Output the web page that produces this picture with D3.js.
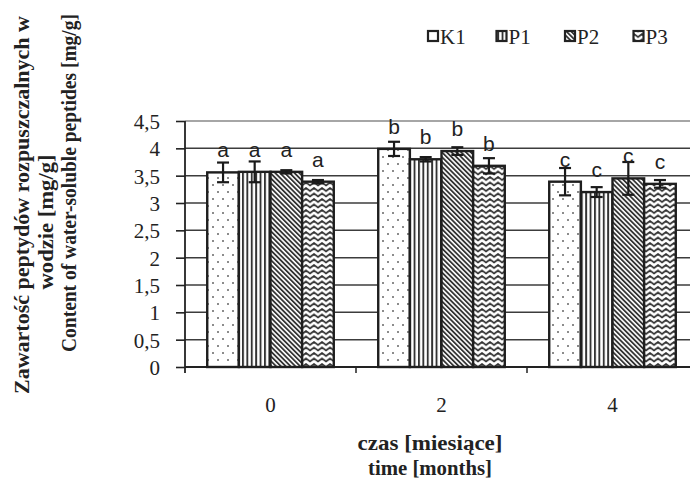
<!DOCTYPE html>
<html>
<head>
<meta charset="utf-8">
<script src="https://cdn.jsdelivr.net/npm/d3@7"></script>
<style>
  html, body { margin: 0; padding: 0; background: #fff; }
  svg { display: block; }
</style>
</head>
<body>
<svg id="chart" width="690" height="481"></svg>
<script>
// Time points (months) and treatment groups
const months = ["0", "2", "4"];
const groups = ["K1", "P1", "P2", "P3"];

// Mean peptide content [mg/g] per group, one value per time point
const valuesK1 = [3.56, 3.99, 3.39];
const valuesP1 = [3.57, 3.80, 3.20];
const valuesP2 = [3.57, 3.95, 3.45];
const valuesP3 = [3.39, 3.68, 3.35];

// Error bar half-widths [mg/g]
const errorsK1 = [0.18, 0.13, 0.25];
const errorsP1 = [0.19, 0.04, 0.09];
const errorsP2 = [0.03, 0.07, 0.30];
const errorsP3 = [0.03, 0.14, 0.07];

// Significance letters per time point
const letters = ["a", "b", "c"];

// Y axis tick values and labels
const yTicks = [0, 0.5, 1, 1.5, 2, 2.5, 3, 3.5, 4, 4.5];
const yTickLabels = ["0", "0,5", "1", "1,5", "2", "2,5", "3", "3,5", "4", "4,5"];

const series = [
  { key: "K1", values: valuesK1, errors: errorsK1 },
  { key: "P1", values: valuesP1, errors: errorsP1 },
  { key: "P2", values: valuesP2, errors: errorsP2 },
  { key: "P3", values: valuesP3, errors: errorsP3 }
];

const rows = [];
series.forEach(s => {
  months.forEach((m, i) => {
    rows.push({ group: s.key, month: m, value: s.values[i], error: s.errors[i], letter: letters[i] });
  });
});

const svg = d3.select("#chart");
const serif = "'Liberation Serif', 'Times New Roman', serif";
const sans = "'Liberation Sans', Arial, sans-serif";

const plot = { left: 185, right: 698, top: 121, bottom: 367 };

const x0 = d3.scaleBand().domain(months).range([plot.left, plot.right]).padding(0);
const bw = x0.bandwidth();
const x1 = d3.scaleBand().domain(groups).range([bw * 0.13, bw * 0.87]).padding(0);
const y = d3.scaleLinear().domain([0, 4.5]).range([plot.bottom, plot.top]);

// Fill patterns for each group
const defs = svg.append("defs");
const ink = "#333";

const pDots = defs.append("pattern").attr("id", "pat-K1")
  .attr("patternUnits", "userSpaceOnUse").attr("width", 10).attr("height", 14);
pDots.append("rect").attr("width", 10).attr("height", 14).attr("fill", "#fff");
pDots.append("circle").attr("cx", 3).attr("cy", 3).attr("r", 1).attr("fill", "#666");
pDots.append("circle").attr("cx", 8).attr("cy", 10).attr("r", 1).attr("fill", "#666");

const pVert = defs.append("pattern").attr("id", "pat-P1")
  .attr("patternUnits", "userSpaceOnUse").attr("width", 4.4).attr("height", 10);
pVert.append("rect").attr("width", 4.4).attr("height", 10).attr("fill", "#fff");
pVert.append("rect").attr("x", 0).attr("width", 1.9).attr("height", 10).attr("fill", ink);

const pDiag = defs.append("pattern").attr("id", "pat-P2")
  .attr("patternUnits", "userSpaceOnUse").attr("width", 3.4).attr("height", 10)
  .attr("patternTransform", "rotate(-45)");
pDiag.append("rect").attr("width", 3.4).attr("height", 10).attr("fill", "#fff");
pDiag.append("rect").attr("width", 1.8).attr("height", 10).attr("fill", ink);

const pZig = defs.append("pattern").attr("id", "pat-P3")
  .attr("patternUnits", "userSpaceOnUse").attr("width", 8).attr("height", 5.5);
pZig.append("rect").attr("width", 8).attr("height", 5.5).attr("fill", "#fff");
pZig.append("path").attr("d", "M-2,4 L2,1 L6,4 L10,1")
  .attr("fill", "none").attr("stroke", ink).attr("stroke-width", 1.7);

// Horizontal gridlines
svg.append("g").selectAll("line").data(yTicks.filter(t => t > 0)).join("line")
  .attr("x1", plot.left).attr("x2", 690)
  .attr("y1", d => y(d)).attr("y2", d => y(d))
  .attr("stroke", d => d === 4.5 ? "#888" : "#3c3c3c")
  .attr("stroke-width", 1.5);

// Y axis
const yAxis = d3.axisLeft(y).tickValues(yTicks).tickSize(9).tickPadding(16)
  .tickFormat((d, i) => yTickLabels[i]);
const gy = svg.append("g").attr("transform", `translate(${plot.left},0)`).call(yAxis);
gy.select(".domain").remove();
gy.selectAll(".tick line").attr("stroke", "#222").attr("stroke-width", 1.6);
gy.selectAll(".tick text").attr("font-family", serif).attr("font-size", 21)
  .attr("fill", "#222").attr("dy", "0.35em");
svg.append("line").attr("x1", plot.left).attr("x2", plot.left)
  .attr("y1", plot.top).attr("y2", plot.bottom + 6)
  .attr("stroke", "#222").attr("stroke-width", 1.8);

// X axis
const xAxis = d3.axisBottom(x0).tickSize(0).tickPadding(30);
const gx = svg.append("g").attr("transform", `translate(0,${plot.bottom})`).call(xAxis);
gx.select(".domain").remove();
gx.selectAll(".tick text").attr("font-family", serif).attr("font-size", 21).attr("fill", "#222");
svg.append("line").attr("x1", plot.left).attr("x2", 690)
  .attr("y1", plot.bottom).attr("y2", plot.bottom)
  .attr("stroke", "#222").attr("stroke-width", 1.8);
// Category boundary ticks
svg.append("g").selectAll("line").data(months.slice(1)).join("line")
  .attr("x1", d => x0(d)).attr("x2", d => x0(d))
  .attr("y1", plot.bottom).attr("y2", plot.bottom + 6)
  .attr("stroke", "#222").attr("stroke-width", 1.5);

// Bars
const bars = svg.append("g");
bars.selectAll("rect").data(rows).join("rect")
  .attr("x", d => x0(d.month) + x1(d.group))
  .attr("width", x1.bandwidth())
  .attr("y", d => y(d.value))
  .attr("height", d => y(0) - y(d.value))
  .attr("fill", d => `url(#pat-${d.group})`)
  .attr("stroke", "#1e1e1e").attr("stroke-width", 2.4);

// Error bars
const eb = svg.append("g").attr("stroke", "#1a1a1a").attr("stroke-width", 2.2);
rows.forEach(d => {
  const cx = x0(d.month) + x1(d.group) + x1.bandwidth() / 2;
  const yt = y(d.value + d.error), yb = y(d.value - d.error);
  eb.append("line").attr("x1", cx).attr("x2", cx).attr("y1", yt).attr("y2", yb);
  eb.append("line").attr("x1", cx - 6).attr("x2", cx + 6).attr("y1", yt).attr("y2", yt);
  eb.append("line").attr("x1", cx - 6).attr("x2", cx + 6).attr("y1", yb).attr("y2", yb);
});

// Significance letters above bars
svg.append("g").selectAll("text").data(rows).join("text")
  .attr("x", d => x0(d.month) + x1(d.group) + x1.bandwidth() / 2)
  .attr("y", d => y(d.value) - 15)
  .attr("text-anchor", "middle")
  .attr("font-family", sans).attr("font-size", 21).attr("fill", "#222")
  .text(d => d.letter);

// Legend
const legend = svg.append("g");
groups.forEach((g, i) => {
  const lx = 428 + i * 68.5;
  legend.append("rect").attr("x", lx).attr("y", 31).attr("width", 10).attr("height", 10)
    .attr("fill", `url(#pat-${g})`).attr("stroke", "#222").attr("stroke-width", 2.2);
  legend.append("text").attr("x", lx + 12).attr("y", 44)
    .attr("font-family", serif).attr("font-size", 21).attr("fill", "#222").text(g);
});

// Axis titles
const xTitle = svg.append("g").attr("font-family", serif).attr("font-size", 21)
  .attr("font-weight", "bold").attr("fill", "#222").attr("text-anchor", "middle");
xTitle.append("text").attr("x", 430).attr("y", 450)
  .attr("textLength", 145).attr("lengthAdjust", "spacingAndGlyphs").text("czas [miesiące]");
xTitle.append("text").attr("x", 430).attr("y", 475)
  .attr("textLength", 124).attr("lengthAdjust", "spacingAndGlyphs").text("time [months]");

const yTitleLines = [
  { text: "Zawartość peptydów rozpuszczalnych w", x: 22, cy: 205, len: 378 },
  { text: "wodzie [mg/g]", x: 46, cy: 222, len: 135 },
  { text: "Content of water-soluble peptides [mg/g]", x: 69, cy: 183, len: 338 }
];
const yTitle = svg.append("g").attr("font-family", serif).attr("font-size", 20)
  .attr("font-weight", "bold").attr("fill", "#222").attr("text-anchor", "middle");
yTitleLines.forEach(l => {
  yTitle.append("text")
    .attr("transform", `translate(${l.x + 7},${l.cy}) rotate(-90)`)
    .attr("textLength", l.len).attr("lengthAdjust", "spacingAndGlyphs")
    .text(l.text);
});
</script>
</body>
</html>
